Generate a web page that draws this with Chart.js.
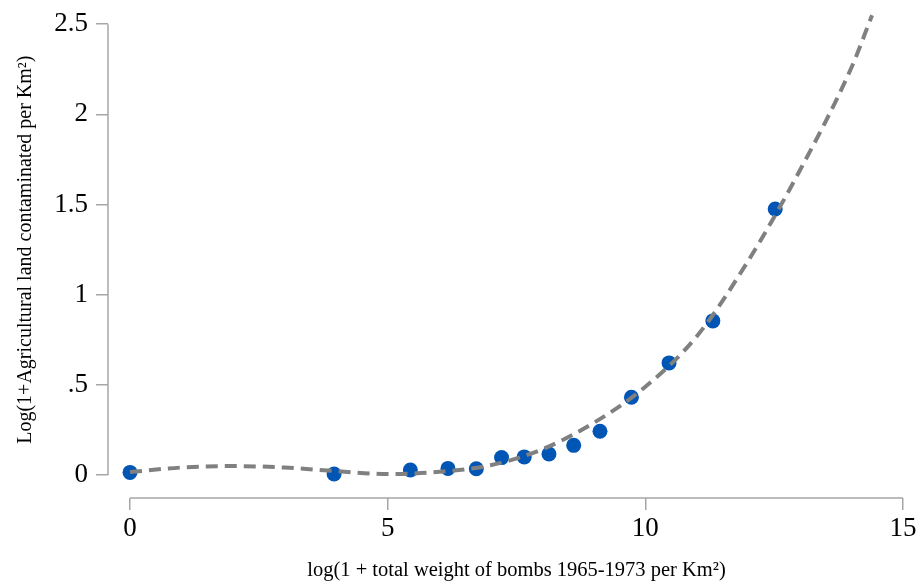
<!DOCTYPE html>
<html>
<head>
<meta charset="utf-8">
<script src="https://cdn.jsdelivr.net/npm/chart.js@4/dist/chart.umd.min.js"></script>
<style>
  html, body { margin: 0; padding: 0; background: #fff; }
  #chart { display: block; }
</style>
</head>
<body>
<canvas id="chart" width="920" height="582"></canvas>
<script>
// observed points (x = log bombs per km2, y = log contaminated land per km2)
const pointX = [0, 3.96, 5.44, 6.17, 6.72, 7.21, 7.65, 8.13, 8.61, 9.12, 9.73, 10.46, 11.31, 12.52];
const pointY = [0.015, 0.006, 0.028, 0.037, 0.035, 0.097, 0.101, 0.117, 0.165, 0.243, 0.432, 0.622, 0.855, 1.475];

// fitted curve
const fitX = [0, 1, 2, 3, 4, 5, 6, 7, 8, 9, 10, 11, 12, 13, 14, 14.4];
const fitY = [0.017, 0.042, 0.05, 0.042, 0.022, 0.006, 0.018, 0.055, 0.143, 0.29, 0.49, 0.77, 1.19, 1.69, 2.26, 2.55];

const xTicks = [0, 5, 10, 15];
const yTicks = [0, 0.5, 1, 1.5, 2, 2.5];

const xTitle = "log(1 + total weight of bombs 1965-1973 per Km²)";
const yTitle = "Log(1+Agricultural land contaminated per Km²)";

const serif = '"Liberation Serif", "Times New Roman", serif';
const axisColor = "#a6a6a6";

// Stata style axes: lines only span the tick range, titles centred on that span
const axisLines = {
  id: "axisLines",
  beforeDatasetsDraw(chart) {
    const { ctx, scales: { x, y }, chartArea } = chart;
    const x0 = x.getPixelForValue(xTicks[0]);
    const x1 = x.getPixelForValue(xTicks[xTicks.length - 1]);
    const y0 = y.getPixelForValue(yTicks[0]);
    const y1 = y.getPixelForValue(yTicks[yTicks.length - 1]);
    ctx.save();
    ctx.strokeStyle = axisColor;
    ctx.lineWidth = 1.5;
    ctx.beginPath();
    ctx.moveTo(x0, chartArea.bottom);
    ctx.lineTo(x1, chartArea.bottom);
    ctx.moveTo(chartArea.left, y0);
    ctx.lineTo(chartArea.left, y1);
    ctx.stroke();

    ctx.fillStyle = "#000";
    ctx.textAlign = "center";
    ctx.textBaseline = "alphabetic";
    ctx.font = "20.5px " + serif;
    ctx.fillText(xTitle, (x0 + x1) / 2, 576);

    ctx.translate(31, (y0 + y1) / 2);
    ctx.rotate(-Math.PI / 2);
    ctx.font = "20px " + serif;
    ctx.fillText(yTitle, 0, 0);
    ctx.restore();
  }
};

new Chart(document.getElementById("chart"), {
  type: "scatter",
  data: {
    datasets: [
      {
        type: "line",
        label: "fit",
        data: fitX.map((v, i) => ({ x: v, y: fitY[i] })),
        borderColor: "#808080",
        borderWidth: 4,
        borderDash: [12, 7],
        borderCapStyle: "butt",
        pointRadius: 0,
        cubicInterpolationMode: "monotone",
        fill: false,
        clip: false
      },
      {
        label: "obs",
        data: pointX.map((v, i) => ({ x: v, y: pointY[i] })),
        backgroundColor: "#0055b5",
        borderWidth: 0,
        pointRadius: 7.5
      }
    ]
  },
  options: {
    responsive: false,
    animation: false,
    devicePixelRatio: 1,
    layout: { padding: { top: 22, right: 17, left: 0, bottom: 0 } },
    plugins: { legend: { display: false }, tooltip: { enabled: false } },
    scales: {
      x: {
        type: "linear",
        min: -0.427,
        max: 15,
        afterBuildTicks: s => { s.ticks = xTicks.map(v => ({ value: v })); },
        afterFit: s => { s.height = 84; },
        border: { display: false },
        grid: { drawOnChartArea: false, drawTicks: true, tickLength: 12, color: axisColor, lineWidth: 1.5 },
        ticks: { color: "#000", font: { family: serif, size: 27 }, padding: 3, maxRotation: 0 }
      },
      y: {
        type: "linear",
        min: -0.127,
        max: 2.5,
        afterBuildTicks: s => { s.ticks = yTicks.map(v => ({ value: v })); },
        afterFit: s => { s.width = 108; },
        border: { display: false },
        grid: { drawOnChartArea: false, drawTicks: true, tickLength: 12, color: axisColor, lineWidth: 1.5 },
        ticks: {
          color: "#000",
          font: { family: serif, size: 27 },
          padding: 8,
          callback: v => (v === 0 ? "0" : String(v).replace(/^0\./, "."))
        }
      }
    }
  },
  plugins: [axisLines]
});
</script>
</body>
</html>
